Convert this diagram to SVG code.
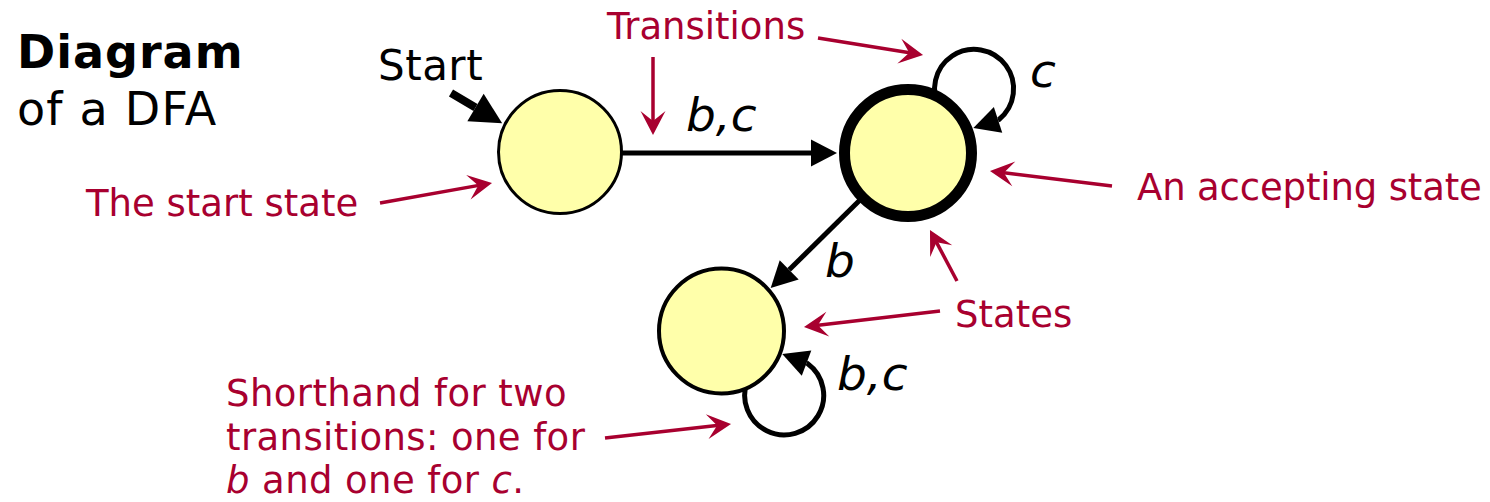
<svg xmlns="http://www.w3.org/2000/svg" width="1490" height="502" viewBox="0 0 1490 502">
  <style>
    text { font-family: "DejaVu Sans", Verdana, sans-serif; }
    .title { font-size: 46px; fill: #000; letter-spacing: 1.2px; }
    .bold { font-weight: bold; letter-spacing: 1px; }
    .sym { font-size: 47px; font-style: italic; fill: #000; }
    .start { font-size: 42px; fill: #000; letter-spacing: 0.5px; }
    .note { font-size: 37px; fill: #a8002f; }
    .state { fill: #ffffaa; stroke: #000; }
    .edge { fill: none; stroke: #000; stroke-width: 5; marker-end: url(#ah); }
    .pointer { fill: none; stroke: #a8002f; stroke-width: 3.5; marker-end: url(#rh); }
  </style>
  <defs>
    <!-- black transition arrowhead; path end sits at the base -->
    <marker id="ah" markerUnits="userSpaceOnUse" viewBox="-2 -15 30 30" markerWidth="30" markerHeight="30" refX="0" refY="0" orient="auto" overflow="visible">
      <path d="M0,-13.5 L26,0 L0,13.5 z" fill="#000"/>
    </marker>
    <!-- larger head for the start arrow -->
    <marker id="ah-start" markerUnits="userSpaceOnUse" viewBox="-2 -18 36 36" markerWidth="36" markerHeight="36" refX="0" refY="0" orient="auto" overflow="visible">
      <path d="M0,-16 L31,0 L0,16 z" fill="#000"/>
    </marker>
    <!-- concave red pointer head -->
    <marker id="rh" markerUnits="userSpaceOnUse" viewBox="-14 -14 28 28" markerWidth="28" markerHeight="28" refX="0" refY="0" orient="auto" overflow="visible">
      <path d="M12,0 L-12,-12.5 L-2,0 L-12,12.5 z" fill="#a8002f"/>
    </marker>
  </defs>

  <!-- heading -->
  <text class="title bold" x="17" y="68">Diagram</text>
  <text class="title" x="17" y="125">of a DFA</text>

  <!-- transitions -->
  <g id="connectors">
    <path id="start-arrow" d="M451,93 L475.5,107.5" fill="none" stroke="#000" stroke-width="8" marker-end="url(#ah-start)"/>
    <path id="s1-s2" class="edge" d="M621,153 L811,153"/>
    <path id="s2-s3" class="edge" d="M862,198 L789.2,269.8"/>
    <path id="s2-loop" class="edge" d="M940.3,109.3 A39.5,39.5 0 1 1 999,119.5 l-0.95,0.31"/>
    <path id="s3-loop" class="edge" d="M747.4,381 A39.5,39.5 0 1 0 807.5,363.5 l-0.935,-0.353"/>
  </g>

  <!-- states -->
  <g id="s1">
    <circle class="state" cx="560" cy="152" r="61.5" stroke-width="3"/>
  </g>
  <g id="s2">
    <circle class="state" cx="908" cy="153" r="63.5" stroke-width="11"/>
  </g>
  <g id="s3">
    <circle class="state" cx="721.5" cy="331" r="62.5" stroke-width="4"/>
  </g>

  <!-- transition labels -->
  <text class="start" x="378" y="80">Start</text>
  <text class="sym" x="686" y="131">b,c</text>
  <text class="sym" x="1030" y="87">c</text>
  <text class="sym" x="825" y="277">b</text>
  <text class="sym" x="837" y="390">b,c</text>

  <!-- annotations -->
  <g id="annotations">
    <path class="pointer" d="M380,203 L480.2,185.1"/>
    <path class="pointer" d="M653,57 L653,123"/>
    <path class="pointer" d="M818,38 L911.2,53.1"/>
    <path class="pointer" d="M1112,186 L1001.9,172.5"/>
    <path class="pointer" d="M957,281 L935.6,240.6"/>
    <path class="pointer" d="M940,311 L815.9,325.6"/>
    <path class="pointer" d="M605,438 L719.1,425.3"/>
  </g>
  <text class="note" x="86" y="216">The start state</text>
  <text class="note" x="607" y="39">Transitions</text>
  <text class="note" x="1137" y="200" letter-spacing="-0.15">An accepting state</text>
  <text class="note" x="955" y="327">States</text>
  <text class="note" x="226" y="406" letter-spacing="0.4">Shorthand for two</text>
  <text class="note" x="226" y="450" letter-spacing="0.4">transitions: one for</text>
  <text class="note" x="226" y="493" letter-spacing="0.4"><tspan font-style="italic">b</tspan> and one for <tspan font-style="italic">c</tspan>.</text>
</svg>
